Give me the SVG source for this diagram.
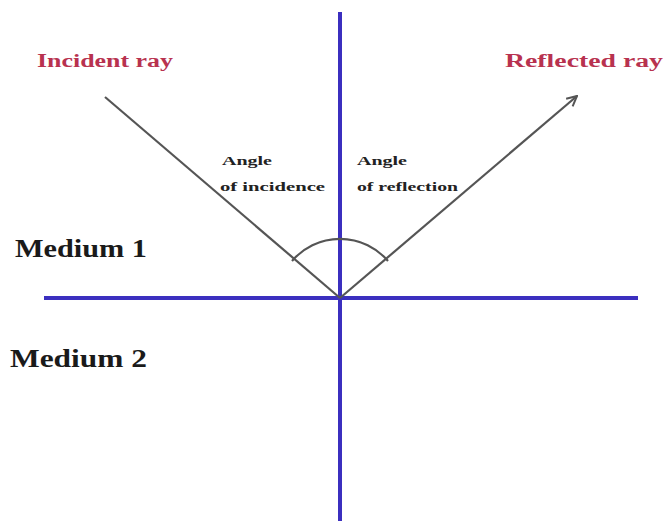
<svg xmlns="http://www.w3.org/2000/svg" width="663" height="521" viewBox="0 0 663 521">
<style>
.axis{stroke:#3b2fbf;stroke-width:4;fill:none}
.ray{stroke:#555;stroke-width:2.2;fill:none}
.ray-lbl{font-family:"Liberation Serif",serif;font-weight:bold;fill:#b8324f;font-size:18px}
.med{font-family:"Liberation Serif",serif;font-weight:bold;fill:#1a1a1a;font-size:26px}
.ang{font-family:"Liberation Serif",serif;font-weight:bold;fill:#222;font-size:13px}
</style>
<defs>
<marker id="arr" viewBox="0 0 12 12" refX="11" refY="6" markerWidth="12" markerHeight="12" markerUnits="userSpaceOnUse" orient="auto">
<path d="M1,1 L11,6 L1,11" fill="none" stroke="#555" stroke-width="2"/>
</marker>
</defs>
<rect width="663" height="521" fill="#fff"/>
<g id="connectors">
<line class="axis" x1="340" y1="12" x2="340" y2="521"/>
<line class="axis" x1="44" y1="298" x2="638" y2="298"/>
<line id="incident" class="ray" x1="105" y1="97" x2="340" y2="298"/>
<line id="reflected" class="ray" x1="340" y1="298" x2="577" y2="96" marker-end="url(#arr)"/>
<path id="arc" class="ray" d="M292,261 A63,63 0 0 1 388,261"/>
</g>
<g id="incident-label"><text class="ray-lbl" x="37" y="67" textLength="136" lengthAdjust="spacingAndGlyphs">Incident ray</text></g>
<g id="reflected-label"><text class="ray-lbl" x="505" y="67" textLength="158" lengthAdjust="spacingAndGlyphs">Reflected ray</text></g>
<g id="angle-incidence"><text class="ang" x="222" y="165" textLength="50" lengthAdjust="spacingAndGlyphs">Angle</text><text class="ang" x="220" y="191" textLength="105" lengthAdjust="spacingAndGlyphs">of incidence</text></g>
<g id="angle-reflection"><text class="ang" x="357" y="165" textLength="50" lengthAdjust="spacingAndGlyphs">Angle</text><text class="ang" x="357" y="191" textLength="101" lengthAdjust="spacingAndGlyphs">of reflection</text></g>
<g id="medium1"><text class="med" x="15" y="257" textLength="132" lengthAdjust="spacingAndGlyphs">Medium 1</text></g>
<g id="medium2"><text class="med" x="10" y="367" textLength="137" lengthAdjust="spacingAndGlyphs">Medium 2</text></g>
</svg>
